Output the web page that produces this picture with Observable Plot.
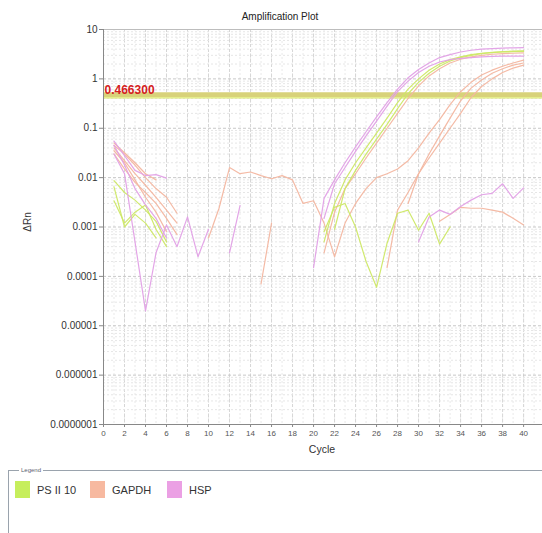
<!DOCTYPE html>
<html><head><meta charset="utf-8">
<script src="https://cdn.jsdelivr.net/npm/d3@7"></script>
<script src="https://cdn.jsdelivr.net/npm/@observablehq/plot@0.6"></script>
<style>
body{margin:0;background:#fff;font-family:"Liberation Sans",Arial,sans-serif;}
#wrap{position:relative;width:542px;height:533px;overflow:hidden;background:#fff;}
#chart{position:absolute;left:0;top:0;}
#title{position:absolute;top:11px;left:0;width:560px;text-align:center;font-size:10px;color:#222;}
#ylab{position:absolute;left:27px;top:222px;transform:translate(-50%,-50%) rotate(-90deg);font-size:10px;color:#333;}
#xlab{position:absolute;left:322px;top:449px;transform:translate(-50%,-50%);font-size:10.5px;color:#333;}
#legend{position:absolute;left:8px;top:470px;width:560px;height:80px;border-top:1px solid #9aa3ad;border-left:1px solid #9aa3ad;}
#legend .cap{position:absolute;left:10px;top:-5px;font-size:6px;color:#5a6170;background:#fff;padding:0 2px;line-height:8px;}
#legend .item{position:absolute;top:10px;display:flex;align-items:center;font-size:11px;color:#333;}
#legend .sw{width:15px;height:17px;margin-right:7px;}
</style></head>
<body>
<div id="wrap">
  <div id="chart"></div>
  <div id="title">Amplification Plot</div>
  <div id="ylab">ΔRn</div>
  <div id="xlab">Cycle</div>
  <div id="legend"><span class="cap">Legend</span></div>
</div>
<script>
const _ = null;
// Delta Rn per cycle (cycles 1..40), null = not plottable (<= 0)
const hsp1 = [.055,.028,.014,.011,.0115,.0098,_,_,_,_,_,_,_,_,_,_,_,_,_,.00015,.0038,.009,.02,.042,.085,.17,.33,.62,1.05,1.55,2.1,2.7,3.1,3.5,3.8,4.0,4.1,4.2,4.25,4.3];
const hsp2 = [.045,.018,.006,.0028,.0015,.0006,_,_,_,_,_,_,_,_,_,_,_,_,_,_,.0015,.0075,.016,.034,.07,.14,.28,.55,.9,1.35,1.8,2.2,2.45,2.6,2.7,2.8,2.85,2.9,2.9,2.9];
const hsp3 = [.03,.012,.0005,.00002,.0003,.0011,.0004,.0016,.00025,.0009,_,.0003,.0027,_,_,_,_,_,_,_,_,_,_,_,_,_,_,_,_,.0005,.0016,.0022,.0018,.0026,.0035,.0045,.0048,.0075,.0038,.0062];
const ps1 = [.0087,.005,.0035,.0022,.0013,.0005,_,_,_,_,_,_,_,_,_,_,_,_,_,_,.0005,.003,.009,.02,.04,.08,.16,.33,.62,1.0,1.5,2.0,2.45,2.8,3.1,3.3,3.45,3.55,3.65,3.7];
const ps2 = [.0034,.0012,.002,.0028,.0009,.0004,_,_,_,_,_,_,_,_,_,_,_,_,_,_,_,.0009,.006,.014,.03,.06,.12,.25,.5,.85,1.3,1.8,2.3,2.7,3.0,3.25,3.4,3.5,3.55,3.6];
const ps3 = [.0065,.001,.0018,.0012,.0006,_,_,_,_,_,_,_,_,_,_,_,_,_,_,_,.0008,.0025,.003,.001,.0002,.00006,.00047,.0019,.0022,.00086,.0019,.00045,.001,_,_,_,_,_,_,_];
const gapdh1 = [.045,.03,.018,.01,.006,.004,.0019,_,_,.0006,.0024,.016,.012,.013,.011,.0095,.011,.009,.003,.0034,.0012,.00025,.0012,.003,.006,.01,.012,.015,.022,.04,.08,.15,.3,.55,.85,1.2,1.5,1.8,2.1,2.4];
const gapdh2 = [.04,.022,.012,.007,.004,.0022,.0012,_,_,_,_,_,_,_,.00007,.0012,_,_,_,_,_,_,_,_,_,_,.00015,.0022,.005,.012,.03,.07,.16,.36,.65,.95,1.3,1.6,1.9,2.1];
const gapdh3 = [.05,.032,.02,.012,.009,_,_,_,_,_,_,_,_,_,_,_,_,_,_,_,_,_,_,_,_,_,_,_,.003,.012,.025,.05,.1,.2,.42,.7,1.0,1.35,1.65,1.9];
const gapdh4 = [.035,.02,.009,.004,.002,.0008,_,_,_,_,_,_,_,_,_,_,_,_,_,_,_,_,_,_,_,_,_,_,_,_,_,.0013,.0018,.0025,.0024,.0024,.0022,.002,.0015,.0011];
const gapdh5 = [.03,.015,.008,.005,.003,.0015,.0007,_,_,_,_,_,_,_,_,_,_,_,_,_,.0003,.002,.006,.012,.025,.05,.1,.2,.4,.72,1.15,1.6,2.1,2.5,2.8,3.0,3.15,3.25,3.3,3.35];

const targets = ["PS II 10", "GAPDH", "HSP"];
const targetColors = ["#cde866", "#f3b6a0", "#e2a0e6"];
const swatchColors = ["#c6ee5c", "#f7b9a0", "#eba0e4"];
const threshold = 0.4663;
const yTicks = [10, 1, 0.1, 0.01, 0.001, 0.0001, 0.00001, 0.000001, 0.0000001];
const yTickLabels = ["10","1","0.1","0.01","0.001","0.0001","0.00001","0.000001","0.0000001"];
const xTicks = [0,2,4,6,8,10,12,14,16,18,20,22,24,26,28,30,32,34,36,38,40];

const wells = [
  {target:"GAPDH", v:gapdh1},{target:"GAPDH", v:gapdh2},{target:"GAPDH", v:gapdh3},{target:"GAPDH", v:gapdh4},{target:"GAPDH", v:gapdh5},
  {target:"PS II 10", v:ps1},{target:"PS II 10", v:ps2},{target:"PS II 10", v:ps3},
  {target:"HSP", v:hsp1},{target:"HSP", v:hsp2},{target:"HSP", v:hsp3}
];
const rows = [];
wells.forEach((w, k) => w.v.forEach((val, i) => rows.push({well:k, target:w.target, cycle:i+1, rn: val == null ? NaN : val})));

const minorY = [];
for (let e = -7; e < 1; e++) for (let m = 2; m <= 9; m++) minorY.push(m * Math.pow(10, e));
const labelOf = new Map(yTicks.map((t,i)=>[t, yTickLabels[i]]));
const colorOf = new Map(targets.map((t,i)=>[t, targetColors[i]]));

const chart = Plot.plot({
  width: 542, height: 460,
  marginLeft: 103, marginRight: 0, marginTop: 29, marginBottom: 36,
  style: {fontFamily: "'Liberation Sans', Arial, sans-serif", background: "#fff"},
  x: {domain: [0, 41.8], axis: null},
  y: {type: "log", domain: [1e-7, 10], axis: null},
  marks: [
    Plot.ruleX(d3.range(1, 42), {stroke: "#e9e9e9", strokeDasharray: "2,2"}),
    Plot.ruleX(xTicks, {stroke: "#d6d6d6", strokeDasharray: "3,2"}),
    Plot.ruleY(minorY, {stroke: "#e6e6e6", strokeDasharray: "2,2"}),
    Plot.ruleY(yTicks, {stroke: "#c8c8c8", strokeDasharray: "3,2"}),
    Plot.ruleY([threshold], {stroke: "#d8d27a", strokeWidth: 6}),
    Plot.ruleY([threshold], {stroke: "#e4ee8c", strokeWidth: 1.5, dy: 2.5}),
    Plot.line(rows, {x: "cycle", y: "rn", z: "well", stroke: d => colorOf.get(d.target), strokeWidth: 1.2, strokeOpacity: 0.95}),
    Plot.text([threshold], {x: 0, y: d => d, text: d => d3.format(".6f")(d), textAnchor: "start", dx: 1, dy: -5, fill: "#d42020", fontWeight: "bold", fontSize: 12}),
    Plot.ruleY([10], {stroke: "#bdbdbd"}),
    Plot.ruleX([0], {stroke: "#888"}),
    Plot.ruleY([1e-7], {stroke: "#888"}),
    Plot.axisY({ticks: yTicks, tickFormat: d => labelOf.get(d), tickSize: 4, tickPadding: 2, fontSize: 10, label: null, stroke: "#888", color: "#333"}),
    Plot.axisX({ticks: xTicks, tickFormat: d => String(d), tickSize: 3, tickPadding: 3, fontSize: 8, label: null, stroke: "#888", color: "#555"})
  ]
});
document.getElementById("chart").appendChild(chart);

const legend = document.getElementById("legend");
const lefts = [6, 81, 158];
targets.forEach((t, i) => {
  const it = document.createElement("div");
  it.className = "item";
  it.style.left = lefts[i] + "px";
  const sw = document.createElement("span");
  sw.className = "sw";
  sw.style.background = swatchColors[i];
  const tx = document.createElement("span");
  tx.textContent = t;
  it.appendChild(sw); it.appendChild(tx);
  legend.appendChild(it);
});
</script>
</body></html>
